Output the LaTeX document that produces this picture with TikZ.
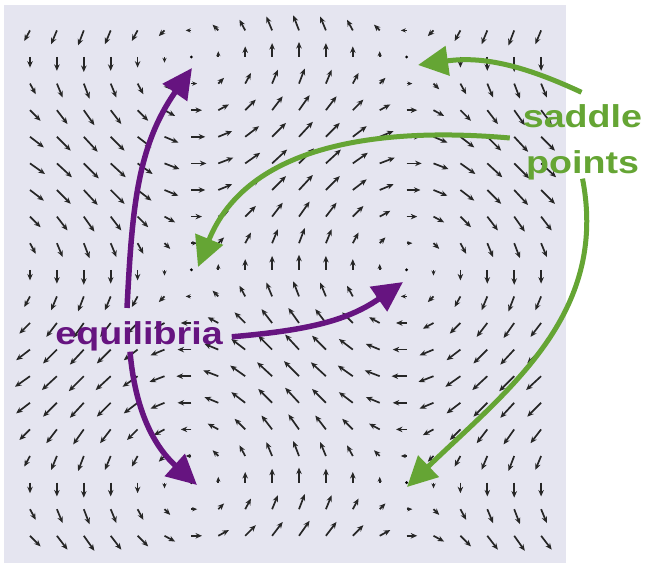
\documentclass[tikz,border=0pt]{standalone}
\usepackage{fontspec}
\setmainfont{Liberation Sans}
\newfontfamily\labelfont[FakeStretch=1.19]{Liberation Sans}
\usepackage{tikz}
\usetikzlibrary{arrows.meta, calc}
\definecolor{eqpurple}{RGB}{102, 20, 128}
\definecolor{saddlegreen}{RGB}{101, 165, 52}
\definecolor{shadelav}{RGB}{229, 229, 240}

\begin{document}
\begin{tikzpicture}[
  x=0.02cm, y=0.02cm,
  lab/.style={inner sep=1pt, align=center,
              font=\labelfont\fontsize{18}{26}\selectfont\bfseries},
  vec/.style={line width=0.034cm, black!85},
  eqarr/.style={-{Triangle[length=0.6cm, width=0.58cm]}, eqpurple,
                line width=0.11cm},
  sparr/.style={-{Triangle[length=0.6cm, width=0.58cm]}, saddlegreen,
                line width=0.1cm}
]
  \useasboundingbox (0,0) rectangle (645,564);
  \fill[shadelav] (4,1) rectangle (566,559);
  \foreach \i in {0,...,19}{
    \foreach \j in {0,...,19}{
      \pgfmathsetmacro\X{30+26.9*\i}
      \pgfmathsetmacro\Y{533.6-26.6*\j}
      \pgfmathsetmacro\vx{15*sin((\j-1)*22.5)}
      \pgfmathsetmacro\vy{15*sin((\i-6)*22.5)}
      \pgfmathsetmacro\mag{veclen(\vx,\vy)/15}
      \pgfmathsetmacro\hlen{min(0.13,0.26*\mag)}
      \pgfmathsetmacro\hwid{0.85*\hlen}
      \ifdim\mag pt<0.2pt
        \fill (\X,\Y) circle[radius=0.9pt];
      \else
        \draw[vec, -{Stealth[length=\hlen cm, width=\hwid cm]}]
          (\X,\Y) -- ++(\vx,\vy);
      \fi
    }
  }
  \node[lab, text=eqpurple, anchor=base] (eq) at (139,219) {equilibria};
  \node[lab, text=saddlegreen] (sp) at (582.5,422) {saddle\\points};
  \coordinate (eqtop) at (192,496);
  \coordinate (eqmid) at (403,282);
  \coordinate (eqbot) at (197,79);
  \coordinate (sptop) at (418,499);
  \coordinate (spmid) at (198,297);
  \coordinate (spbot) at (407,77);
  \draw[eqarr] ($(eq.north)+(-12,12)$) to[out=87, in=235] (eqtop);
  \draw[eqarr] ($(eq.east)+(7,0)$) to[out=5, in=215] (eqmid);
  \draw[eqarr] ($(eq.south)+(-9,2)$) to[out=-85, in=138] (eqbot);
  \draw[sparr] ($(sp.north)+(-1,10)$) to[out=155, in=8] (sptop);
  \draw[sparr] ($(sp.west)+(-11,4)$) to[out=175, in=68] (spmid);
  \draw[sparr] ($(sp.south)+(0,3)$) to[out=-79, in=44] (spbot);
\end{tikzpicture}
\end{document}
